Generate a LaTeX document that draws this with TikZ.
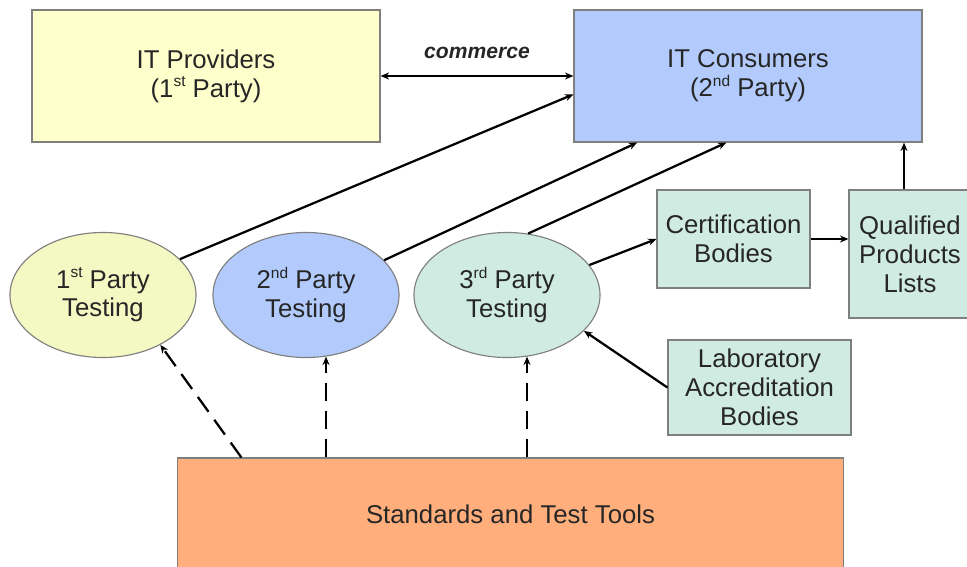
\documentclass[tikz,border=0pt]{standalone}
\usepackage{fontspec}
\setmainfont{Liberation Sans}
\usetikzlibrary{shapes.geometric,arrows.meta}

\definecolor{provfill}{HTML}{FFFFCC}
\definecolor{consfill}{HTML}{B2CBFC}
\definecolor{firstfill}{HTML}{F4F8C3}
\definecolor{mintfill}{HTML}{D0EBE1}
\definecolor{stdfill}{HTML}{FFAE7C}
\definecolor{edgegray}{HTML}{7F7F7F}
\definecolor{inkgray}{HTML}{262626}

% small raised ordinal suffix
\newcommand{\ordsuf}[1]{\raisebox{0.75ex}{\fontsize{11}{11}\selectfont #1}}

\begin{document}
\begin{tikzpicture}[x=0.025cm, y=-0.025cm,
        >={Stealth[length=6pt,width=5pt]},
        box/.style={draw=edgegray, line width=0.8pt, align=center, text=inkgray,
            inner sep=0pt, font=\fontsize{18.3}{20.5}\selectfont},
        party/.style={box, ellipse, minimum width=4.65cm, minimum height=3.125cm},
        link/.style={black, line width=1.6pt, ->},
        feed/.style={link, dash pattern=on 13pt off 7pt}]
    \useasboundingbox (0,0) rectangle (967,566);

    % parties on top
    \node[box, fill=provfill, minimum width=8.7cm, minimum height=3.3cm] (prov) at (206,76) {IT Providers\\(1\ordsuf{st} Party)};
    \node[box, fill=consfill, minimum width=8.7cm, minimum height=3.3cm] (cons) at (748,76) {IT Consumers\\(2\ordsuf{nd} Party)};
    \node[font=\bfseries\itshape\fontsize{15}{18}\selectfont, text=inkgray] (comm) at (477,53) {commerce};

    % the three kinds of testing
    \node[party, fill=firstfill] (ptest1) at (103,295) {1\ordsuf{st} Party\\Testing};
    \node[party, fill=consfill] (ptest2) at (306,295) {2\ordsuf{nd} Party\\Testing};
    \node[party, fill=mintfill] (ptest3) at (507,295) {3\ordsuf{rd} Party\\Testing};

    % third party side
    \node[box, fill=mintfill, minimum width=3.825cm, minimum height=2.45cm] (cert) at (733.5,239) {Certification\\Bodies};
    \node[box, fill=mintfill, minimum width=3.05cm, minimum height=3.2cm] (qpl) at (910,254) {Qualified\\Products\\Lists};
    \node[box, fill=mintfill, minimum width=4.575cm, minimum height=2.375cm] (lab) at (759.5,387.5) {Laboratory\\Accreditation\\Bodies};

    \node[box, fill=stdfill, minimum width=16.625cm, minimum height=2.8cm] (std) at (510.5,514) {Standards and Test Tools};

    \draw[link, <->] (prov.east) -- (prov.east -| cons.west);
    \draw[link] (ptest1.25) -- (cons.186);
    \draw[link] (ptest2.24) -- (cons.211);
    \draw[link] (ptest3.71) -- (cons.252);
    \draw[link] (ptest3.20) -- (cert.west);
    \draw[link] (cert.east) -- (cert.east -| qpl.west);
    \draw[link] ([xshift=-0.15cm]qpl.north) -- ([xshift=-0.15cm]qpl.north |- cons.south);
    \draw[link] (lab.west) -- (ptest3.-25);

    % standards feed every kind of testing
    \draw[feed] ([xshift=1.6cm]std.north west) -- (ptest1.-41);
    \draw[feed] (std.north -| ptest2.-72) -- (ptest2.-72);
    \draw[feed] (std.north -| ptest3.-72) -- (ptest3.-72);
\end{tikzpicture}
\end{document}
